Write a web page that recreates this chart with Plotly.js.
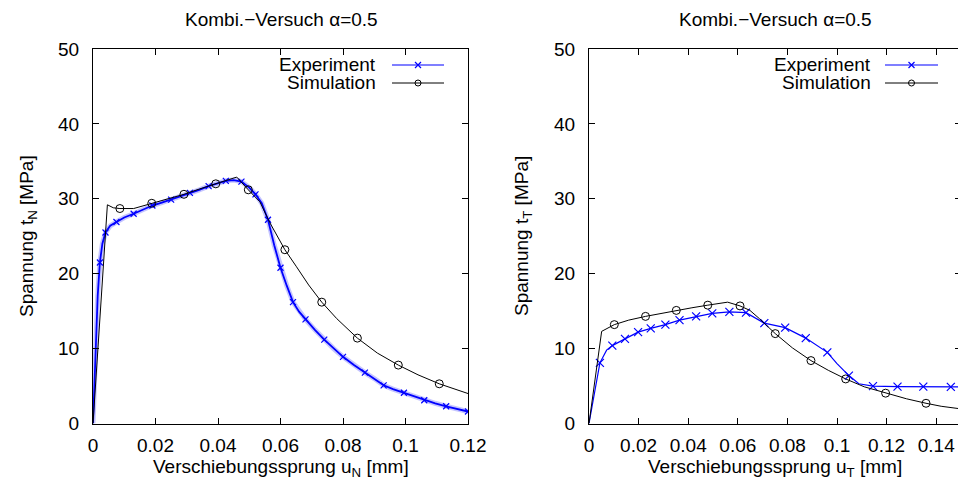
<!DOCTYPE html>
<html>
<head>
<meta charset="utf-8">
<script src="https://cdn.plot.ly/plotly-3.0.1.min.js"></script>
<style>
html,body{margin:0;padding:0;overflow:hidden;background:#fff;width:958px;height:480px;}
#plot{width:970px;height:480px;}
</style>
</head>
<body>
<div id="plot"></div>
<script>
// ---------- data: left panel (normal direction) ----------
const uN_exp = [0, 0.0008, 0.0015, 0.0022, 0.0030, 0.0040, 0.0055, 0.0075, 0.0100, 0.0130, 0.0160, 0.0190, 0.0220, 0.0250, 0.0280, 0.0310, 0.0340, 0.0370, 0.0400, 0.0425, 0.0450, 0.0475, 0.0500, 0.0520, 0.0540, 0.0560, 0.0580, 0.0600, 0.0620, 0.0640, 0.0660, 0.0680, 0.0710, 0.0740, 0.0770, 0.0800, 0.0835, 0.0870, 0.0900, 0.0930, 0.0960, 0.0995, 0.1030, 0.1060, 0.1095, 0.1130, 0.1165, 0.1200];
const tN_exp = [0, 10, 17, 21.5, 24, 25.5, 26.4, 26.9, 27.5, 28.0, 28.6, 29.1, 29.5, 29.9, 30.4, 30.8, 31.2, 31.7, 32.1, 32.4, 32.5, 32.3, 31.5, 30.6, 29.4, 27.2, 23.8, 20.8, 18.4, 16.2, 14.9, 13.9, 12.5, 11.2, 10.0, 8.9, 7.8, 6.8, 6.0, 5.1, 4.6, 4.1, 3.6, 3.1, 2.7, 2.3, 1.9, 1.6];
const expN_markIdx = [3, 5, 7, 9, 11, 13, 15, 17, 19, 21, 23, 25, 27, 29, 31, 33, 35, 37, 39, 41, 43, 45, 47];

const uN_sim = [0, 0.0046, 0.0065, 0.0086, 0.0130, 0.0188, 0.0240, 0.0291, 0.0340, 0.0393, 0.0430, 0.0460, 0.0497, 0.0534, 0.0566, 0.0590, 0.0614, 0.0650, 0.0690, 0.0732, 0.0780, 0.0846, 0.0910, 0.0977, 0.1040, 0.1108, 0.1150, 0.1200];
const tN_sim = [0, 29.2, 28.8, 28.7, 28.7, 29.4, 30.0, 30.6, 31.3, 32.0, 32.5, 32.9, 31.2, 29.6, 26.8, 24.9, 23.2, 21.0, 18.5, 16.2, 14.0, 11.4, 9.4, 7.8, 6.5, 5.3, 4.7, 4.0];
const simN_markIdx = [3, 5, 7, 9, 12, 16, 19, 21, 23, 25];

// ---------- data: right panel (tangential direction) ----------
const uT_exp = [0, 0.0044, 0.0071, 0.0094, 0.0145, 0.0198, 0.0249, 0.0308, 0.0365, 0.0432, 0.0497, 0.0566, 0.0633, 0.0707, 0.0791, 0.0874, 0.0961, 0.1000, 0.1048, 0.1088, 0.1145, 0.1244, 0.1348, 0.1459, 0.1500];
const tT_exp = [0, 8.1, 9.8, 10.4, 11.3, 12.2, 12.7, 13.2, 13.8, 14.3, 14.7, 14.9, 14.8, 13.4, 12.8, 11.4, 9.5, 8.0, 6.4, 5.3, 5.0, 4.93, 4.93, 4.9, 4.9];
const expT_markIdx = [1, 3, 4, 5, 6, 7, 8, 9, 10, 11, 12, 13, 14, 15, 16, 18, 20, 21, 22, 23];

const uT_sim = [0, 0.0051, 0.0102, 0.0160, 0.0228, 0.0290, 0.0352, 0.0415, 0.0479, 0.0559, 0.0609, 0.0649, 0.0687, 0.0751, 0.0820, 0.0895, 0.0965, 0.1035, 0.1110, 0.1196, 0.1280, 0.1359, 0.1420, 0.1500];
const tT_sim = [0, 12.3, 13.2, 13.8, 14.3, 14.7, 15.1, 15.45, 15.8, 16.2, 15.7, 15.1, 14.0, 12.0, 10.1, 8.4, 7.1, 5.95, 4.9, 4.05, 3.3, 2.7, 2.3, 1.95];
const simT_markIdx = [2, 4, 6, 8, 10, 13, 15, 17, 19, 21];

// ---------- texts ----------
const panelTitle = "Kombi.\u2212Versuch \u03b1=0.5";
const seriesNames = ["Experiment", "Simulation"];
const xTitles = ["Verschiebungssprung u<sub>N</sub> [mm]", "Verschiebungssprung u<sub>T</sub> [mm]"];
const yTitles = ["Spannung t<sub>N</sub> [MPa]", "Spannung t<sub>T</sub> [MPa]"];

// ---------- layout constants (pixels) ----------
const W = 970, H = 480;
const FONT = "'Liberation Sans', Arial, Helvetica, sans-serif";
const FS = 19;
const BLUE = "#0000ff";
const py = p => 1 - p / H;
const px = p => p / W;

const pick = (arr, idx) => idx.map(i => arr[i]);

const traces = [];
// left experiment: halo + line + markers
traces.push({x: uN_exp, y: tN_exp, xaxis: 'x', yaxis: 'y', mode: 'lines',
  line: {color: 'rgba(90,90,255,0.35)', width: 5}, hoverinfo: 'skip'});
traces.push({x: uN_exp, y: tN_exp, xaxis: 'x', yaxis: 'y', mode: 'lines',
  line: {color: BLUE, width: 1.8}});
traces.push({x: pick(uN_exp, expN_markIdx), y: pick(tN_exp, expN_markIdx), xaxis: 'x', yaxis: 'y', mode: 'markers',
  marker: {symbol: 'x-thin-open', size: 6, color: BLUE, line: {color: BLUE, width: 1.2}}});
traces.push({x: uN_sim, y: tN_sim, xaxis: 'x', yaxis: 'y', mode: 'lines',
  line: {color: '#000', width: 1}});
traces.push({x: pick(uN_sim, simN_markIdx), y: pick(tN_sim, simN_markIdx), xaxis: 'x', yaxis: 'y', mode: 'markers',
  marker: {symbol: 'circle-open', size: 8, color: '#000', line: {color: '#000', width: 1}}});

// right experiment
traces.push({x: uT_exp, y: tT_exp, xaxis: 'x2', yaxis: 'y2', mode: 'lines',
  line: {color: BLUE, width: 1.2}});
traces.push({x: pick(uT_exp, expT_markIdx), y: pick(tT_exp, expT_markIdx), xaxis: 'x2', yaxis: 'y2', mode: 'markers',
  marker: {symbol: 'x-thin-open', size: 8, color: BLUE, line: {color: BLUE, width: 1.2}}});
traces.push({x: uT_sim, y: tT_sim, xaxis: 'x2', yaxis: 'y2', mode: 'lines',
  line: {color: '#000', width: 1}});
traces.push({x: pick(uT_sim, simT_markIdx), y: pick(tT_sim, simT_markIdx), xaxis: 'x2', yaxis: 'y2', mode: 'markers',
  marker: {symbol: 'circle-open', size: 8, color: '#000', line: {color: '#000', width: 1}}});

// legend samples (pixel overlay axes)
const legendRows = [65, 83];
const legendBoxes = [{textRight: 378, x0: 392, x1: 444}, {textRight: 873, x0: 885, x1: 938}];
legendBoxes.forEach(b => {
  const xm = (b.x0 + b.x1) / 2;
  traces.push({x: [b.x0, b.x1], y: [legendRows[0], legendRows[0]], xaxis: 'x3', yaxis: 'y3', mode: 'lines',
    line: {color: BLUE, width: 1.2}, cliponaxis: false});
  traces.push({x: [xm], y: [legendRows[0]], xaxis: 'x3', yaxis: 'y3', mode: 'markers',
    marker: {symbol: 'x-thin-open', size: 6, color: BLUE, line: {color: BLUE, width: 1.2}}, cliponaxis: false});
  traces.push({x: [b.x0, b.x1], y: [legendRows[1], legendRows[1]], xaxis: 'x3', yaxis: 'y3', mode: 'lines',
    line: {color: '#000', width: 1}, cliponaxis: false});
  traces.push({x: [xm], y: [legendRows[1]], xaxis: 'x3', yaxis: 'y3', mode: 'markers',
    marker: {symbol: 'circle-open', size: 6, color: '#000', line: {color: '#000', width: 1}}, cliponaxis: false});
});

const axCommon = {
  ticks: 'inside', ticklen: 6, tickwidth: 1, tickcolor: '#000',
  showline: true, linecolor: '#000', linewidth: 1, mirror: 'ticks',
  showgrid: false, zeroline: false, fixedrange: true,
  tickfont: {family: FONT, size: FS, color: '#000'}
};
const yDom = [py(423.5), py(49)];

const annotations = [];
const titleX = [281, 775];
const plotCenterX = [280.5, 775];
const yTitleX = [28, 523];
for (let i = 0; i < 2; i++) {
  annotations.push({xref: 'paper', yref: 'paper', x: px(titleX[i]), y: py(20), text: panelTitle,
    showarrow: false, xanchor: 'center', yanchor: 'middle', font: {family: FONT, size: FS, color: '#000'}});
  annotations.push({xref: 'paper', yref: 'paper', x: px(plotCenterX[i]), y: py(468), text: xTitles[i],
    showarrow: false, xanchor: 'center', yanchor: 'middle', font: {family: FONT, size: FS, color: '#000'}});
  annotations.push({xref: 'paper', yref: 'paper', x: px(yTitleX[i]), y: py(236), text: yTitles[i], textangle: -90,
    showarrow: false, xanchor: 'center', yanchor: 'middle', font: {family: FONT, size: FS, color: '#000'}});
  for (let r = 0; r < 2; r++) {
    annotations.push({xref: 'paper', yref: 'paper', x: px(legendBoxes[i].textRight), y: py(legendRows[r]), text: seriesNames[r],
      showarrow: false, xanchor: 'right', yanchor: 'middle', font: {family: FONT, size: FS, color: '#000'}});
  }
}

const layout = {
  width: W, height: H,
  margin: {l: 0, r: 0, t: 0, b: 0},
  paper_bgcolor: '#fff', plot_bgcolor: 'rgba(0,0,0,0)',
  showlegend: false,
  font: {family: FONT, size: FS, color: '#000'},
  xaxis: Object.assign({}, axCommon, {domain: [px(93), px(468)], range: [0, 0.12], tick0: 0, dtick: 0.02, anchor: 'y', ticklabelstandoff: 5}),
  yaxis: Object.assign({}, axCommon, {domain: yDom, range: [0, 50], tick0: 0, dtick: 10, anchor: 'x', ticklabelstandoff: 9}),
  xaxis2: Object.assign({}, axCommon, {domain: [px(589), px(961)], range: [0, 0.15], tick0: 0, dtick: 0.02, anchor: 'y2', ticklabelstandoff: 5}),
  yaxis2: Object.assign({}, axCommon, {domain: yDom, range: [0, 50], tick0: 0, dtick: 10, anchor: 'x2', ticklabelstandoff: 9}),
  xaxis3: {domain: [0, 1], range: [0, W], visible: false, anchor: 'y3', fixedrange: true},
  yaxis3: {domain: [0, 1], range: [H, 0], visible: false, anchor: 'x3', fixedrange: true},
  annotations: annotations
};

Plotly.newPlot('plot', traces, layout, {displayModeBar: false, staticPlot: true});
</script>
</body>
</html>
